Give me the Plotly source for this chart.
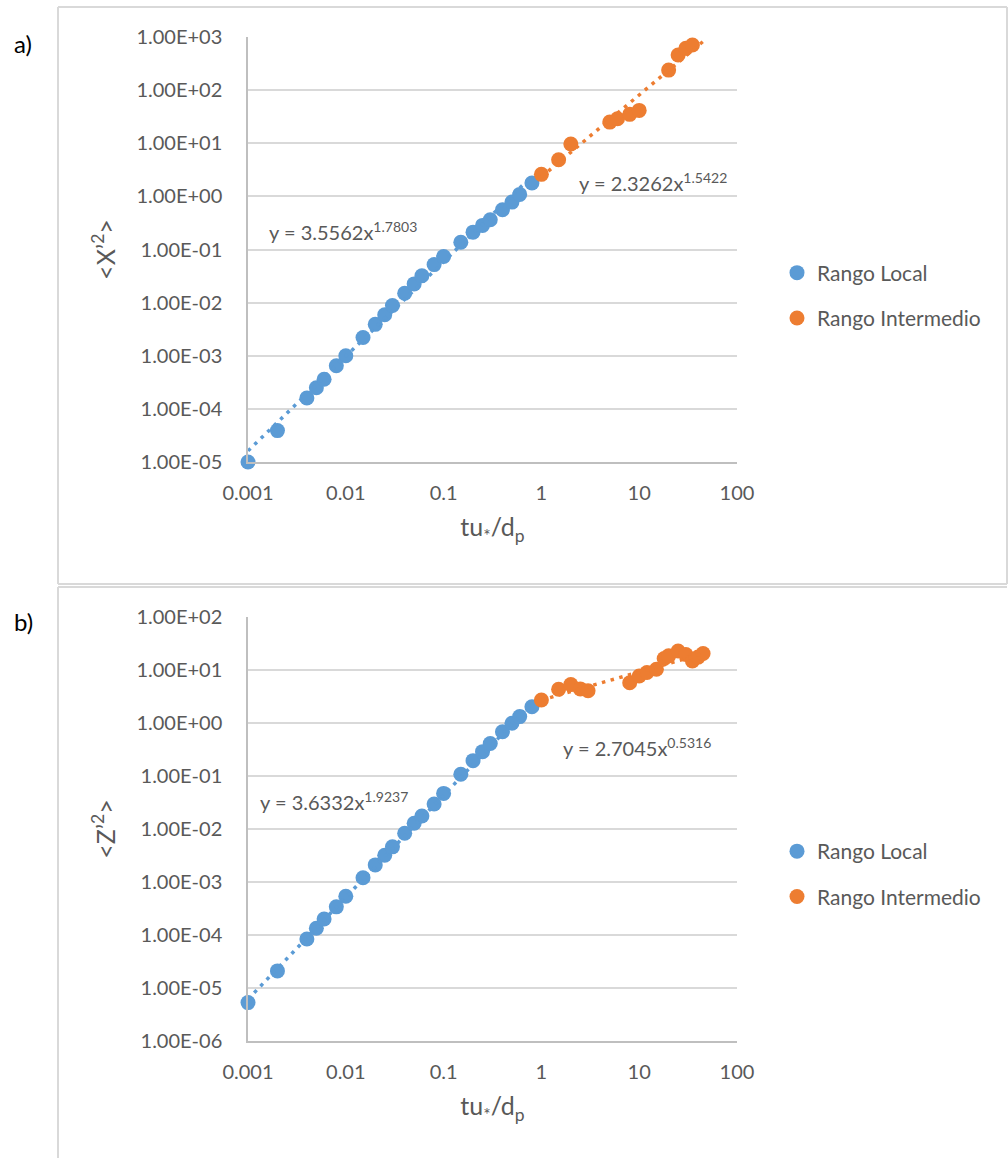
import plotly.graph_objects as go

# ---------------- data ----------------
t_local = [0.001, 0.002, 0.004, 0.005, 0.006, 0.008, 0.01, 0.015, 0.02, 0.025, 0.03, 0.04,
           0.05, 0.06, 0.08, 0.1, 0.15, 0.2, 0.25, 0.3, 0.4, 0.5, 0.6, 0.8]
x2_local = [1.0e-5, 3.9e-5, 1.6e-4, 2.5e-4, 3.6e-4, 6.5e-4, 1.0e-3, 2.2e-3, 3.9e-3, 5.9e-3, 8.8e-3, 1.5e-2,
            2.25e-2, 3.2e-2, 5.2e-2, 7.4e-2, 0.137, 0.212, 0.284, 0.363, 0.56, 0.78, 1.09, 1.78]
z2_local = [5.3e-6, 2.1e-5, 8.4e-5, 1.34e-4, 2.0e-4, 3.4e-4, 5.4e-4, 1.2e-3, 2.1e-3, 3.2e-3, 4.6e-3, 8.3e-3,
            1.28e-2, 1.76e-2, 2.96e-2, 4.7e-2, 0.108, 0.195, 0.288, 0.41, 0.685, 0.99, 1.32, 2.03]

t_inter_a = [1, 1.5, 2, 5, 6, 8, 10, 20, 25, 30, 35]
x2_inter = [2.6, 4.9, 9.7, 25, 29, 35, 41.5, 238, 457, 611, 705]

t_inter_b = [1, 1.5, 2, 2.5, 3, 8, 10, 12, 15, 18, 20, 25, 30, 35, 40, 45]
z2_inter = [2.72, 4.33, 5.3, 4.4, 4.05, 5.75, 7.7, 9.0, 10.3, 16.5, 18.5, 22.8, 19.6, 14.8, 17.5, 20.5]

# power-law trendlines (coefficients as displayed on the chart)
trend_a_local = (3.5562, 1.7803)
trend_a_inter = (2.3262, 1.5422)
trend_b_local = (3.6332, 1.9237)
trend_b_inter = (2.7045, 0.5316)
trend_local_range = [0.001, 0.8]
trend_inter_range = [1, 45]

x_tickvals = [0.001, 0.01, 0.1, 1, 10, 100]
x_ticktext = ["0.001", "0.01", "0.1", "1", "10", "100"]
ya_tickvals = [1e-5, 1e-4, 1e-3, 1e-2, 1e-1, 1e0, 1e1, 1e2, 1e3]
ya_ticktext = ["1.00E-05", "1.00E-04", "1.00E-03", "1.00E-02", "1.00E-01",
               "1.00E+00", "1.00E+01", "1.00E+02", "1.00E+03"]
yb_tickvals = [1e-6, 1e-5, 1e-4, 1e-3, 1e-2, 1e-1, 1e0, 1e1, 1e2]
yb_ticktext = ["1.00E-06", "1.00E-05", "1.00E-04", "1.00E-03", "1.00E-02",
               "1.00E-01", "1.00E+00", "1.00E+01", "1.00E+02"]

BLUE = "#5B9BD5"
ORANGE = "#ED7D31"
TXT = "#595959"
GRID = "#d9d9d9"
FONT = "Lato"

W, H = 1008, 1158


def px(x):
    return x / W


def py(y):
    return 1 - y / H


def power(coef, xs):
    a, b = coef
    return [a * x ** b for x in xs]


MS = 15
DOT = dict(width=3.5, dash="3.5px,5.5px")

fig = go.Figure()

# panel a
fig.add_trace(go.Scatter(x=t_local, y=x2_local, mode="markers", name="Rango Local",
                         marker=dict(color=BLUE, size=MS), legendgroup="la", legend="legend",
                         cliponaxis=False, xaxis="x", yaxis="y"))
fig.add_trace(go.Scatter(x=t_inter_a, y=x2_inter, mode="markers", name="Rango Intermedio",
                         marker=dict(color=ORANGE, size=MS), legendgroup="ia", legend="legend",
                         cliponaxis=False, xaxis="x", yaxis="y"))
fig.add_trace(go.Scatter(x=trend_local_range, y=power(trend_a_local, trend_local_range), mode="lines",
                         line=dict(color=BLUE, **DOT), showlegend=False,
                         xaxis="x", yaxis="y", hoverinfo="skip"))
fig.add_trace(go.Scatter(x=trend_inter_range, y=power(trend_a_inter, trend_inter_range), mode="lines",
                         line=dict(color=ORANGE, **DOT), showlegend=False,
                         xaxis="x", yaxis="y", hoverinfo="skip"))

# panel b
fig.add_trace(go.Scatter(x=t_local, y=z2_local, mode="markers", name="Rango Local",
                         marker=dict(color=BLUE, size=MS), legendgroup="lb", legend="legend2",
                         cliponaxis=False, xaxis="x2", yaxis="y2"))
fig.add_trace(go.Scatter(x=t_inter_b, y=z2_inter, mode="markers", name="Rango Intermedio",
                         marker=dict(color=ORANGE, size=MS), legendgroup="ib", legend="legend2",
                         cliponaxis=False, xaxis="x2", yaxis="y2"))
fig.add_trace(go.Scatter(x=trend_local_range, y=power(trend_b_local, trend_local_range), mode="lines",
                         line=dict(color=BLUE, **DOT), showlegend=False,
                         xaxis="x2", yaxis="y2", hoverinfo="skip"))
fig.add_trace(go.Scatter(x=trend_inter_range, y=power(trend_b_inter, trend_inter_range), mode="lines",
                         line=dict(color=ORANGE, **DOT), showlegend=False,
                         xaxis="x2", yaxis="y2", hoverinfo="skip"))

xdom = [px(248), px(737)]
tickfont = dict(family=FONT, size=20, color=TXT)
titlefont = dict(family=FONT, size=25, color=TXT)

common_x = dict(type="log", range=[-3, 2], domain=xdom, tickvals=x_tickvals, ticktext=x_ticktext,
                showgrid=False, showline=True, linecolor="#bfbfbf", linewidth=1.5, zeroline=False,
                ticks="", ticklabelstandoff=12, tickfont=tickfont, fixedrange=True, automargin=False)
common_y = dict(type="log", showgrid=True, gridcolor=GRID, gridwidth=1.5, showline=True,
                linecolor="#bfbfbf", linewidth=1.5, zeroline=False, ticks="", ticklabelstandoff=20,
                tickfont=tickfont, fixedrange=True, automargin=False)

fig.update_layout(
    width=W, height=H,
    margin=dict(l=0, r=0, t=0, b=0, autoexpand=False),
    paper_bgcolor="white", plot_bgcolor="white",
    font=dict(family=FONT, color=TXT),
    xaxis=dict(**common_x, anchor="y",
               title=dict(text="tu<sub>*</sub>/d<sub>p</sub>", font=titlefont, standoff=16)),
    yaxis=dict(**common_y, anchor="x", range=[-5, 3], domain=[py(462), py(37)],
               tickvals=ya_tickvals, ticktext=ya_ticktext,
               title=dict(text="&lt;X’<sup>2</sup>&gt;", font=titlefont, standoff=14)),
    xaxis2=dict(**common_x, anchor="y2",
                title=dict(text="tu<sub>*</sub>/d<sub>p</sub>", font=titlefont, standoff=16)),
    yaxis2=dict(**common_y, anchor="x2", range=[-6, 2], domain=[py(1041), py(617)],
                tickvals=yb_tickvals, ticktext=yb_ticktext,
                title=dict(text="&lt;Z’<sup>2</sup>&gt;", font=titlefont, standoff=14)),
    legend=dict(x=px(777), xanchor="left", y=py(295.5), yanchor="middle",
                font=dict(family=FONT, size=21, color=TXT), bgcolor="rgba(0,0,0,0)",
                traceorder="grouped", tracegroupgap=15, itemclick=False, itemdoubleclick=False),
    legend2=dict(x=px(777), xanchor="left", y=py(874), yanchor="middle",
                 font=dict(family=FONT, size=21, color=TXT), bgcolor="rgba(0,0,0,0)",
                 traceorder="grouped", tracegroupgap=15, itemclick=False, itemdoubleclick=False),
    hovermode=False,
)

eq_font = dict(family=FONT, size=20, color=TXT)
ann = [
    dict(text="y = 3.5562x<sup>1.7803</sup>", x=px(267), y=py(231)),
    dict(text="y = 2.3262x<sup>1.5422</sup>", x=px(577), y=py(182)),
    dict(text="y = 3.6332x<sup>1.9237</sup>", x=px(258), y=py(801)),
    dict(text="y = 2.7045x<sup>0.5316</sup>", x=px(561), y=py(747)),
]
for a in ann:
    fig.add_annotation(xref="paper", yref="paper", xanchor="left", yanchor="middle",
                       showarrow=False, font=eq_font, **a)

for lbl, y in [("a)", 44), ("b)", 621)]:
    fig.add_annotation(text=lbl, xref="paper", yref="paper", x=px(12), y=py(y), xanchor="left",
                       yanchor="middle", showarrow=False, font=dict(family=FONT, size=24, color="#000000"))

# chart-area borders
border = dict(color="#d9d9d9", width=2)
for (x0, y0, x1, y1) in [(58, 7, 1007, 7), (58, 7, 58, 584), (58, 584, 1007, 584), (1007, 7, 1007, 584),
                         (58, 587, 1007, 587), (58, 587, 58, 1158)]:
    fig.add_shape(type="line", xref="paper", yref="paper", x0=px(x0), y0=py(y0), x1=px(x1), y1=py(y1),
                  line=border)

fig.write_html("out.html", config={"displayModeBar": False},
               post_script="document.body.style.margin='0';document.body.style.overflow='hidden';")
